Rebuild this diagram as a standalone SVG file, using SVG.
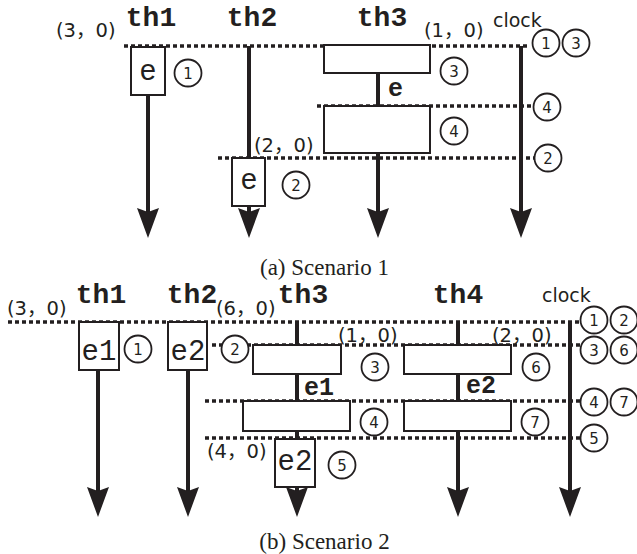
<svg xmlns="http://www.w3.org/2000/svg" width="637" height="554" viewBox="0 0 637 554">
<style>
.dot{stroke:#231f20;stroke-width:3.5;stroke-dasharray:4 3;fill:none}
.life{stroke:#231f20;stroke-width:4;fill:none}
.arrow{stroke:#231f20;stroke-width:4;fill:none;marker-end:url(#ah)}
.box{fill:#fff;stroke:#231f20;stroke-width:2}
.num{fill:#fff;stroke:#231f20;stroke-width:1.8}
.nt{font-family:"DejaVu Sans",sans-serif;font-size:15px;fill:#231f20;text-anchor:middle}
.th{font-family:"Liberation Mono",monospace;font-weight:bold;font-size:28px;fill:#231f20;text-anchor:middle}
.ev{font-family:"Liberation Mono",monospace;font-size:29px;fill:#231f20;text-anchor:middle}
.evb{font-family:"Liberation Mono",monospace;font-weight:bold;font-size:25px;fill:#231f20}
.co{font-family:"DejaVu Sans","Noto Sans CJK JP",sans-serif;font-size:19.5px;fill:#231f20}
.clk{font-family:"DejaVu Sans",sans-serif;font-size:19px;fill:#231f20}
.cap{font-family:"Liberation Serif",serif;font-size:23px;fill:#231f20;text-anchor:middle}
</style>
<defs>
<marker id="ah" markerUnits="userSpaceOnUse" viewBox="0 -12 30 24" refX="4" refY="0" markerWidth="30" markerHeight="24" orient="auto">
<path d="M0,-11 L4,0 L0,11 L30,0 Z" fill="#231f20"/>
</marker>
</defs>

<g id="connectors">
<!-- Scenario 1 -->
<line class="dot" x1="124" y1="46" x2="530" y2="46"/>
<line class="dot" x1="317" y1="106" x2="532" y2="106"/>
<line class="dot" x1="218" y1="158" x2="534" y2="158"/>
<line class="arrow" x1="148" y1="95" x2="148" y2="212"/>
<line class="life" x1="249" y1="46" x2="249" y2="158"/>
<line class="arrow" x1="249" y1="206" x2="249" y2="212"/>
<line class="life" x1="378" y1="73" x2="378" y2="106"/>
<line class="arrow" x1="378" y1="153" x2="378" y2="212"/>
<line class="arrow" x1="521" y1="46" x2="521" y2="212"/>
<!-- Scenario 2 -->
<line class="dot" x1="8" y1="322" x2="580" y2="322"/>
<line class="dot" x1="212" y1="345" x2="580" y2="345"/>
<line class="dot" x1="205" y1="401" x2="580" y2="401"/>
<line class="dot" x1="205" y1="438" x2="580" y2="438"/>
<line class="arrow" x1="98" y1="370" x2="98" y2="491"/>
<line class="arrow" x1="188" y1="370" x2="188" y2="491"/>
<line class="life" x1="297" y1="322" x2="297" y2="345"/>
<line class="life" x1="297" y1="374" x2="297" y2="401"/>
<line class="life" x1="297" y1="431" x2="297" y2="439"/>
<line class="arrow" x1="297" y1="487" x2="297" y2="491"/>
<line class="life" x1="458" y1="322" x2="458" y2="345"/>
<line class="life" x1="458" y1="374" x2="458" y2="401"/>
<line class="arrow" x1="458" y1="431" x2="458" y2="491"/>
<line class="arrow" x1="570" y1="322" x2="570" y2="491"/>
</g>

<!-- Scenario 1 nodes -->
<g id="s1-th1">
<text class="th" x="151" y="26">th1</text>
<text class="co" x="56" y="37">(3，0)</text>
<rect class="box" x="131" y="47" width="34" height="48"/>
<text class="ev" x="148" y="80">e</text>
<circle class="num" cx="188" cy="73" r="13.5"/><text class="nt" x="188" y="78.5">1</text>
</g>
<g id="s1-th2">
<text class="th" x="252" y="26">th2</text>
<text class="co" x="254" y="152">(2，0)</text>
<rect class="box" x="232" y="158" width="33" height="48"/>
<text class="ev" x="249" y="189">e</text>
<circle class="num" cx="296" cy="185" r="13.5"/><text class="nt" x="296" y="190.5">2</text>
</g>
<g id="s1-th3">
<text class="th" x="382" y="26">th3</text>
<text class="co" x="424" y="37">(1，0)</text>
<rect class="box" x="324" y="45" width="106" height="28"/>
<text class="evb" x="388" y="96">e</text>
<rect class="box" x="324" y="106" width="106" height="47"/>
<circle class="num" cx="454" cy="71" r="13.5"/><text class="nt" x="454" y="76.5">3</text>
<circle class="num" cx="454" cy="131" r="13.5"/><text class="nt" x="454" y="136.5">4</text>
</g>
<g id="s1-clock">
<text class="clk" x="493" y="27">clock</text>
<circle class="num" cx="546" cy="43" r="13.5"/><text class="nt" x="546" y="48.5">1</text>
<circle class="num" cx="576" cy="43" r="13.5"/><text class="nt" x="576" y="48.5">3</text>
<circle class="num" cx="547" cy="107" r="13.5"/><text class="nt" x="547" y="112.5">4</text>
<circle class="num" cx="548" cy="158" r="13.5"/><text class="nt" x="548" y="163.5">2</text>
</g>
<text class="cap" x="324.5" y="275">(a) Scenario 1</text>

<!-- Scenario 2 nodes -->
<g id="s2-th1">
<text class="th" x="101" y="303">th1</text>
<text class="co" x="7" y="315">(3，0)</text>
<rect class="box" x="79" y="322" width="40" height="48"/>
<text class="ev" x="99" y="360">e1</text>
<circle class="num" cx="138" cy="349" r="13.5"/><text class="nt" x="138" y="354.5">1</text>
</g>
<g id="s2-th2">
<text class="th" x="192" y="303">th2</text>
<text class="co" x="216" y="315">(6，0)</text>
<rect class="box" x="168" y="322" width="39" height="48"/>
<text class="ev" x="188" y="360">e2</text>
<circle class="num" cx="235" cy="349" r="13.5"/><text class="nt" x="235" y="354.5">2</text>
</g>
<g id="s2-th3">
<text class="th" x="303" y="303">th3</text>
<text class="co" x="338" y="342">(1，0)</text>
<rect class="box" x="253" y="345" width="88" height="29"/>
<text class="evb" x="304" y="395">e1</text>
<rect class="box" x="243" y="401" width="107" height="30"/>
<text class="co" x="207" y="458">(4，0)</text>
<rect class="box" x="275" y="439" width="40" height="48"/>
<text class="ev" x="295" y="470">e2</text>
<circle class="num" cx="375" cy="367" r="13.5"/><text class="nt" x="375" y="372.5">3</text>
<circle class="num" cx="374" cy="422" r="13.5"/><text class="nt" x="374" y="427.5">4</text>
<circle class="num" cx="342" cy="465" r="13.5"/><text class="nt" x="342" y="470.5">5</text>
</g>
<g id="s2-th4">
<text class="th" x="458" y="303">th4</text>
<text class="co" x="492" y="342">(2，0)</text>
<rect class="box" x="404" y="345" width="107" height="29"/>
<text class="evb" x="466" y="393">e2</text>
<rect class="box" x="404" y="401" width="107" height="30"/>
<circle class="num" cx="536" cy="367" r="13.5"/><text class="nt" x="536" y="372.5">6</text>
<circle class="num" cx="535" cy="422" r="13.5"/><text class="nt" x="535" y="427.5">7</text>
</g>
<g id="s2-clock">
<text class="clk" x="542" y="302">clock</text>
<circle class="num" cx="594" cy="320" r="13.5"/><text class="nt" x="594" y="325.5">1</text>
<circle class="num" cx="624" cy="320" r="13.5"/><text class="nt" x="624" y="325.5">2</text>
<circle class="num" cx="594" cy="350" r="13.5"/><text class="nt" x="594" y="355.5">3</text>
<circle class="num" cx="624" cy="350" r="13.5"/><text class="nt" x="624" y="355.5">6</text>
<circle class="num" cx="594" cy="402" r="13.5"/><text class="nt" x="594" y="407.5">4</text>
<circle class="num" cx="624" cy="402" r="13.5"/><text class="nt" x="624" y="407.5">7</text>
<circle class="num" cx="594" cy="438" r="13.5"/><text class="nt" x="594" y="443.5">5</text>
</g>
<text class="cap" x="324.5" y="549">(b) Scenario 2</text>
</svg>
